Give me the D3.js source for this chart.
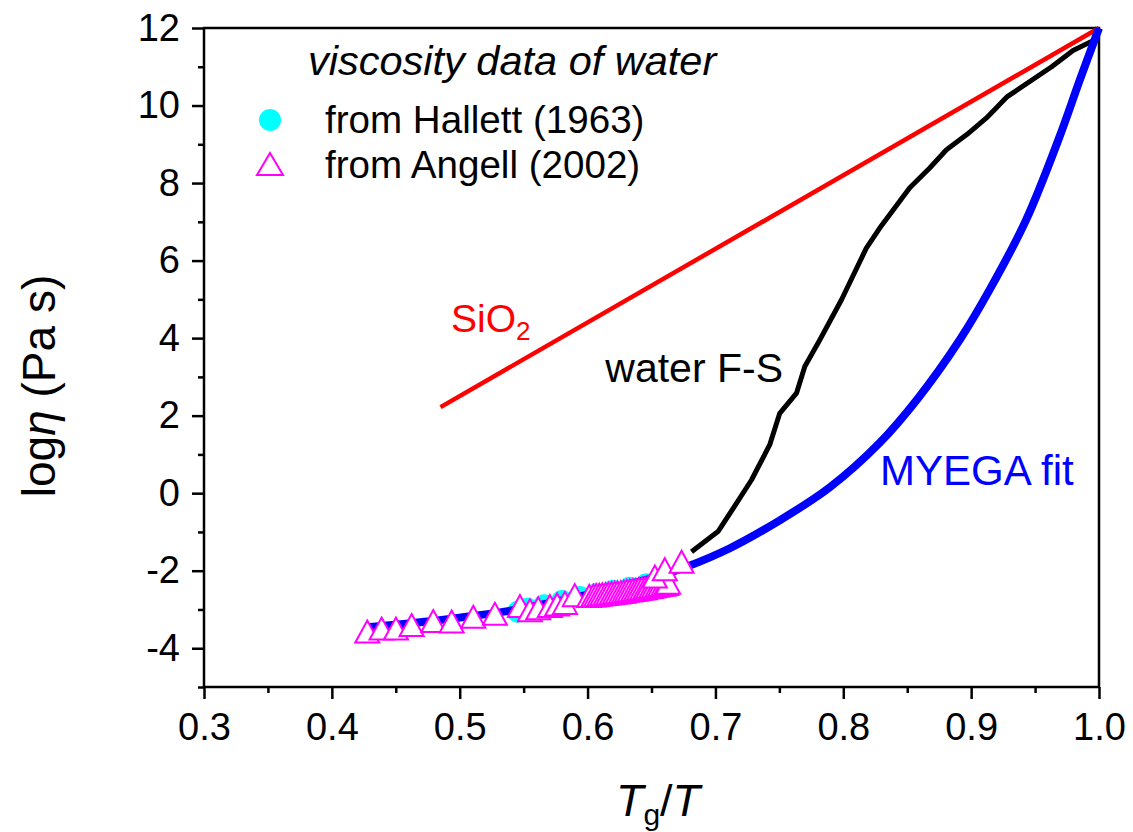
<!DOCTYPE html>
<html>
<head>
<meta charset="utf-8">
<script src="https://cdn.jsdelivr.net/npm/d3@7"></script>
<style>
  body { margin: 0; background: #fff; }
  svg { display: block; font-family: Arial, "Liberation Sans", sans-serif; }
</style>
</head>
<body>
<div id="chart"></div>
<script>
// 資料：由圖面讀取

// SiO2 (Arrhenius 直線)
const sio2X = [0.485, 1.0];
const sio2Y = [2.22, 12.0];

// water F-S 黑線
const fsX = [0.6813, 0.702, 0.7139, 0.7282, 0.7425, 0.7503, 0.7634, 0.7699, 0.7816, 0.7986, 0.818, 0.8285, 0.852, 0.8676, 0.8807, 0.8966, 0.912, 0.9283, 0.9630, 0.9797, 0.9953];
const fsY = [-1.51, -0.99, -0.39, 0.34, 1.25, 2.06, 2.58, 3.27, 3.95, 4.99, 6.32, 6.84, 7.88, 8.39, 8.86, 9.25, 9.68, 10.23, 11.0, 11.42, 11.67];

// MYEGA fit 藍線
const myegaX = [0.43, 0.46, 0.50, 0.545, 0.60, 0.65, 0.6774, 0.7113, 0.7503, 0.7894, 0.8285, 0.8585, 0.891, 0.9145, 0.943, 0.9692, 0.9848, 1.0];
const myegaY = [-3.45, -3.36, -3.21, -3.0, -2.62, -2.2, -1.9, -1.42, -0.7, 0.15, 1.3, 2.45, 3.95, 5.25, 7.05, 9.2, 10.64, 12.0];

// Hallett (1963) 圓點
const hallettX = [0.5455, 0.553, 0.566, 0.580, 0.594, 0.607, 0.620, 0.633, 0.646, 0.658];
const hallettY = [-3.06, -2.98, -2.89, -2.78, -2.68, -2.6, -2.52, -2.44, -2.35, -2.25];

// Angell (2002) 三角形
const angellX = [0.4277, 0.4389, 0.4501, 0.4624, 0.4793, 0.4937, 0.5106, 0.5275, 0.5471, 0.5549, 0.5614, 0.5705, 0.5762, 0.5823, 0.590, 0.6013,
  0.6045, 0.6068, 0.6092, 0.6115, 0.6140, 0.6163, 0.6188, 0.6212, 0.6235, 0.6260, 0.6283, 0.6307, 0.6330, 0.6355, 0.6378, 0.6402, 0.6426, 0.6450, 0.6473, 0.6497, 0.6520, 0.6545, 0.6568, 0.6592, 0.6615, 0.6630,
  0.6526, 0.6604, 0.6735];
const angellY = [-3.57, -3.49, -3.49, -3.40, -3.30, -3.31, -3.19, -3.11, -2.91, -3.02, -2.97, -2.91, -2.87, -2.83, -2.63, -2.65,
  -2.64, -2.63, -2.62, -2.61, -2.60, -2.59, -2.58, -2.57, -2.56, -2.55, -2.54, -2.52, -2.51, -2.50, -2.49, -2.47, -2.46, -2.45, -2.43, -2.42, -2.40, -2.39, -2.37, -2.36, -2.34, -2.31,
  -2.15, -1.96, -1.77];

// 刻度
const xTicks = [0.3, 0.4, 0.5, 0.6, 0.7, 0.8, 0.9, 1.0];
const xMinor = [0.35, 0.45, 0.55, 0.65, 0.75, 0.85, 0.95];
const yTicks = [-4, -2, 0, 2, 4, 6, 8, 10, 12];
const yMinor = [-5, -3, -1, 1, 3, 5, 7, 9, 11];

const W = 1133, H = 832;
const margin = {top: 28, right: 34, bottom: 145, left: 204};

const svg = d3.select('#chart').append('svg')
  .attr('width', W).attr('height', H);

const x = d3.scaleLinear().domain([0.3, 1.0]).range([margin.left, W - margin.right]);
const y = d3.scaleLinear().domain([-5, 12]).range([H - margin.bottom, margin.top]);

const zip = (xs, ys) => xs.map((v, i) => [v, ys[i]]);

// 外框
svg.append('rect')
  .attr('x', x(0.3)).attr('y', y(12))
  .attr('width', x(1.0) - x(0.3)).attr('height', y(-5) - y(12))
  .attr('fill', 'none').attr('stroke', '#000').attr('stroke-width', 2.5);

// X 軸
const gx = svg.append('g').attr('transform', `translate(0,${y(-5)})`);
gx.call(d3.axisBottom(x).tickValues(xTicks).tickSize(12).tickPadding(14).tickFormat(d3.format('.1f')));
gx.append('g').call(d3.axisBottom(x).tickValues(xMinor).tickSize(6).tickFormat(''));

// Y 軸（負號用連字號）
const gy = svg.append('g').attr('transform', `translate(${x(0.3)},0)`);
gy.call(d3.axisLeft(y).tickValues(yTicks).tickSize(12).tickPadding(12).tickFormat(d => String(d)));
gy.append('g').call(d3.axisLeft(y).tickValues(yMinor).tickSize(6).tickFormat(''));

svg.selectAll('.domain').attr('stroke', 'none');
svg.selectAll('.tick line').attr('stroke', '#000').attr('stroke-width', 2.5);
svg.selectAll('.tick text').attr('font-size', 38).attr('fill', '#000')
  .attr('font-family', 'Arial, "Liberation Sans", sans-serif');

// 線
const line = d3.line().x(d => x(d[0])).y(d => y(d[1]));
const smooth = d3.line().x(d => x(d[0])).y(d => y(d[1])).curve(d3.curveCatmullRom.alpha(0.5));

svg.append('path').datum(zip(sio2X, sio2Y))
  .attr('d', line).attr('fill', 'none').attr('stroke', '#ff0000').attr('stroke-width', 4.5);

svg.append('path').datum(zip(fsX, fsY))
  .attr('d', line).attr('fill', 'none').attr('stroke', '#000').attr('stroke-width', 5)
  .attr('stroke-linejoin', 'round');

// Hallett 圓點
svg.append('g').selectAll('circle')
  .data(zip(hallettX, hallettY)).enter().append('circle')
  .attr('cx', d => x(d[0])).attr('cy', d => y(d[1])).attr('r', 11)
  .attr('fill', '#00ffff');

svg.append('path').datum(zip(myegaX, myegaY))
  .attr('d', smooth).attr('fill', 'none').attr('stroke', '#0000ff').attr('stroke-width', 8);

// Angell 三角形
const tri = 'M0,-11L12,11L-12,11Z';
svg.append('g').selectAll('path')
  .data(zip(angellX, angellY)).enter().append('path')
  .attr('d', tri)
  .attr('transform', d => `translate(${x(d[0])},${y(d[1])})`)
  .attr('fill', '#fff').attr('stroke', '#ff00ff').attr('stroke-width', 2);

// 曲線標籤
const sio2 = svg.append('text').attr('x', 451).attr('y', 332)
  .attr('font-size', 39).attr('fill', '#ff0000');
sio2.append('tspan').text('SiO');
sio2.append('tspan').attr('font-size', 26).attr('dy', 8).text('2');

svg.append('text').attr('x', 783).attr('y', 382).attr('text-anchor', 'end')
  .attr('font-size', 41).attr('fill', '#000').text('water F-S');

svg.append('text').attr('x', 880).attr('y', 485)
  .attr('font-size', 42).attr('fill', '#0000ff').text('MYEGA fit');

// 圖例
svg.append('text').attr('x', 308).attr('y', 75)
  .attr('font-size', 41.5).attr('font-style', 'italic').text('viscosity data of water');

svg.append('circle').attr('cx', 270).attr('cy', 120).attr('r', 11).attr('fill', '#00ffff');
svg.append('text').attr('x', 325).attr('y', 133).attr('font-size', 38.6).text('from Hallett (1963)');

svg.append('path').attr('d', 'M0,-11L13,11L-13,11Z')
  .attr('transform', 'translate(270,164)')
  .attr('fill', '#fff').attr('stroke', '#ff00ff').attr('stroke-width', 2);
svg.append('text').attr('x', 325).attr('y', 178).attr('font-size', 38.6).text('from Angell (2002)');

// 軸標題
const xt = svg.append('text').attr('x', 658).attr('y', 816)
  .attr('text-anchor', 'middle').attr('font-size', 45);
xt.append('tspan').attr('font-style', 'italic').text('T');
xt.append('tspan').attr('font-size', 30).attr('dy', 9).text('g');
xt.append('tspan').attr('dy', -9).text('/');
xt.append('tspan').attr('font-style', 'italic').text('T');

const yt = svg.append('text')
  .attr('transform', 'translate(55,386) rotate(-90)')
  .attr('text-anchor', 'middle').attr('font-size', 46);
yt.append('tspan').text('log');
yt.append('tspan').attr('font-style', 'italic').text('η');
yt.append('tspan').text(' (Pa s)');
</script>
</body>
</html>
